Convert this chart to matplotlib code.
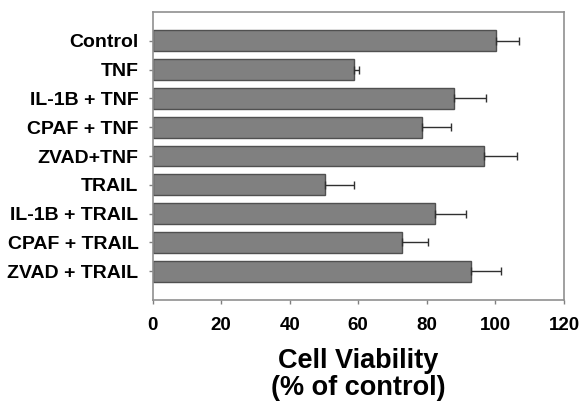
import matplotlib
matplotlib.use("Agg")
import matplotlib.pyplot as plt

categories = ["Control", "TNF", "IL-1B + TNF", "CPAF + TNF", "ZVAD+TNF",
              "TRAIL", "IL-1B + TRAIL", "CPAF + TRAIL", "ZVAD + TRAIL"]
values = [100.1, 58.7, 87.8, 78.5, 96.8, 50.4, 82.3, 72.9, 92.8]
errors = [6.8, 1.4, 9.4, 8.5, 9.4, 8.3, 9.2, 7.4, 8.7]
xticks = [0, 20, 40, 60, 80, 100, 120]

plt.rcParams['font.family'] = ['Liberation Sans', 'DejaVu Sans']

fig = plt.figure(figsize=(5.81, 4.03), dpi=100)
ax = fig.add_axes([0.2625, 0.2556, 0.7082, 0.7146])

ypos = list(range(len(categories)))
ax.barh(ypos, values, height=0.72, color="#808080", edgecolor="#505050", linewidth=1.0,
        xerr=[[0]*len(errors), errors], error_kw=dict(ecolor="#303030", elinewidth=1.0,
                                                      capsize=3, capthick=1.0))
ax.set_ylim(9.0, -1.0)
ax.set_xlim(0, 120)
ax.set_xticks(xticks)
ax.set_xticklabels([str(t) for t in xticks], fontsize=13.5, fontweight='bold')
ax.set_yticks(ypos)
ax.set_yticklabels(categories, fontsize=14, fontweight='bold')
ax.tick_params(axis='y', direction='out', length=3, width=1, color="#808080", pad=7)
ax.tick_params(axis='x', direction='out', length=3, width=1, color="#808080", pad=9)
for s in ax.spines.values():
    s.set_color("#909090")
    s.set_linewidth(1.2)
ax.set_xlabel("Cell Viability\n(% of control)", fontsize=19.5, fontweight='bold', labelpad=10,
              linespacing=1.05)
fig.savefig("out.png", dpi=100)
